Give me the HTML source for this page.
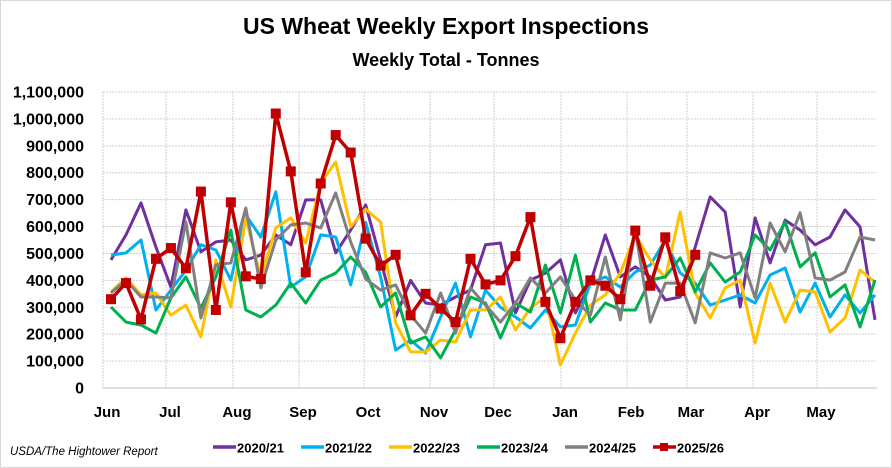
<!DOCTYPE html>
<html><head><meta charset="utf-8"><style>
html,body{margin:0;padding:0;background:#fff;}
svg{display:block;font-family:"Liberation Sans",Arial,sans-serif;}
</style></head><body>
<svg id="chart" width="892" height="468" viewBox="0 0 892 468">
<rect x="0.5" y="0.5" width="891" height="467" fill="#fff" stroke="#d9d9d9"/>
<text x="446" y="34" text-anchor="middle" font-size="23" font-weight="bold" fill="#000">US Wheat Weekly Export Inspections</text>
<text x="446" y="66" text-anchor="middle" font-size="18" font-weight="bold" fill="#000">Weekly Total - Tonnes</text>
<g id="grid"></g><g id="yaxis"></g><g id="xaxis"></g><g id="series"></g>
<text x="10" y="455" font-size="11.5" font-style="italic" fill="#000">USDA/The Hightower Report</text>
<g id="legend"></g>
</svg>
<script>
const seriesNames = ["2020/21","2021/22","2022/23","2023/24","2024/25","2025/26"];
const seriesColors = ["#7030a0","#00b0f0","#ffc000","#00b050","#808080","#c00000"];
const s2020 = [476,569,688,524,375,662,506,543,550,476,494,569,532,699,699,502,587,680,476,264,400,316,308,338,364,532,539,279,401,427,476,279,390,569,413,450,413,327,338,524,710,654,301,632,465,624,587,532,561,662,599,253];
const s2021 = [494,502,550,290,364,438,532,513,401,643,561,729,375,413,569,561,383,615,413,141,178,130,264,390,190,364,300,264,223,290,227,234,390,413,375,431,457,550,427,390,308,327,346,316,420,446,282,390,264,346,279,346];
const s2022 = [357,409,346,353,271,308,190,476,301,632,409,595,632,539,762,840,599,665,617,242,134,134,178,171,290,290,338,216,297,338,86,204,308,346,427,569,476,409,654,353,260,372,401,167,390,245,364,357,208,260,438,394];
const s2023 = [301,245,234,204,335,413,297,413,587,290,264,308,390,316,401,427,487,430,301,353,167,190,112,216,338,316,186,316,282,457,279,494,245,316,290,290,401,413,483,357,465,394,431,569,513,617,450,502,338,383,227,401];
const s2024 = [353,401,338,338,335,617,260,457,465,669,372,550,606,613,595,725,543,405,364,383,271,204,353,204,372,308,245,316,409,353,413,327,271,487,253,587,245,390,390,242,502,483,502,335,613,506,651,409,401,431,561,550];
const s2025 = [330,390,255,480,520,445,730,290,690,415,405,1020,805,430,760,940,875,555,455,495,270,350,295,245,480,385,400,490,635,320,185,320,400,380,330,585,380,560,360,495];
const yTicks = [0,100000,200000,300000,400000,500000,600000,700000,800000,900000,1000000,1100000];
const monthLabels = ["Jun","Jul","Aug","Sep","Oct","Nov","Dec","Jan","Feb","Mar","Apr","May"];
const monthWeeks = [-0.53,3.67,8.14,12.55,16.9,21.3,25.57,30.04,34.45,38.45,42.86,47.13];

const NS="http://www.w3.org/2000/svg";
const X0=103,X1=877,Y0=388,Y1=92;
const xS=i=>111+i*14.98;
const yS=v=>Y0-(v/1100000)*(Y0-Y1);
function mk(tag,attrs,parent){const e=document.createElementNS(NS,tag);for(const k in attrs)e.setAttribute(k,attrs[k]);parent.appendChild(e);return e;}
const grid=document.getElementById('grid'),ya=document.getElementById('yaxis'),xa=document.getElementById('xaxis'),sg=document.getElementById('series'),lg=document.getElementById('legend');
yTicks.forEach(t=>{
  const l=mk('line',{x1:X0,x2:X1,y1:yS(t),y2:yS(t),stroke:t===0?'#bfbfbf':'#d0d0d0','stroke-width':1,'stroke-dasharray':t===0?'':'2,1'},grid);
  
  
  const tx=mk('text',{x:84,y:yS(t)+5.5,'text-anchor':'end','font-size':16,'font-weight':'bold',fill:'#000'},ya);
  tx.textContent=t.toLocaleString('en-US');
  
  
});
monthLabels.forEach((m,k)=>{
  const x=Math.max(X0,xS(monthWeeks[k]));
  const l=mk('line',{x1:x,x2:x,y1:Y1,y2:Y0,stroke:'#d0d0d0','stroke-width':1,'stroke-dasharray':'2,1'},grid);
  
  
  const tx=mk('text',{x:x+4,y:417,'text-anchor':'middle','font-size':15,'font-weight':'bold',fill:'#000'},xa);
  tx.textContent=m;
  
  
});
const all=[s2020,s2021,s2022,s2023,s2024,s2025];
all.forEach((arr,si)=>{
  const pts=arr.map((v,i)=>xS(i).toFixed(1)+','+yS(v*1000).toFixed(1)).join(' ');
  const p=mk('polyline',{points:pts,fill:'none',stroke:seriesColors[si],'stroke-width':si===5?3.5:3,'stroke-linejoin':'round'},sg);
  
  
});
s2025.forEach((v,i)=>{
  const r=mk('rect',{x:xS(i)-5,y:yS(v*1000)-5,width:10,height:10,fill:'#c00000'},sg);
  
  
});
seriesNames.forEach((n,si)=>{
  const bx=213+si*88;
  const g=mk('g',{},lg);
  
  
  mk('line',{x1:bx,x2:bx+23,y1:447,y2:447,stroke:seriesColors[si],'stroke-width':3.5},g);
  if(si===5) mk('rect',{x:bx+7,y:443,width:8,height:8,fill:'#c00000'},g);
  const t=mk('text',{x:bx+24,y:452.5,'font-size':13,'font-weight':'bold',fill:'#000'},g);
  t.textContent=n;
});
</script>
</body></html>
